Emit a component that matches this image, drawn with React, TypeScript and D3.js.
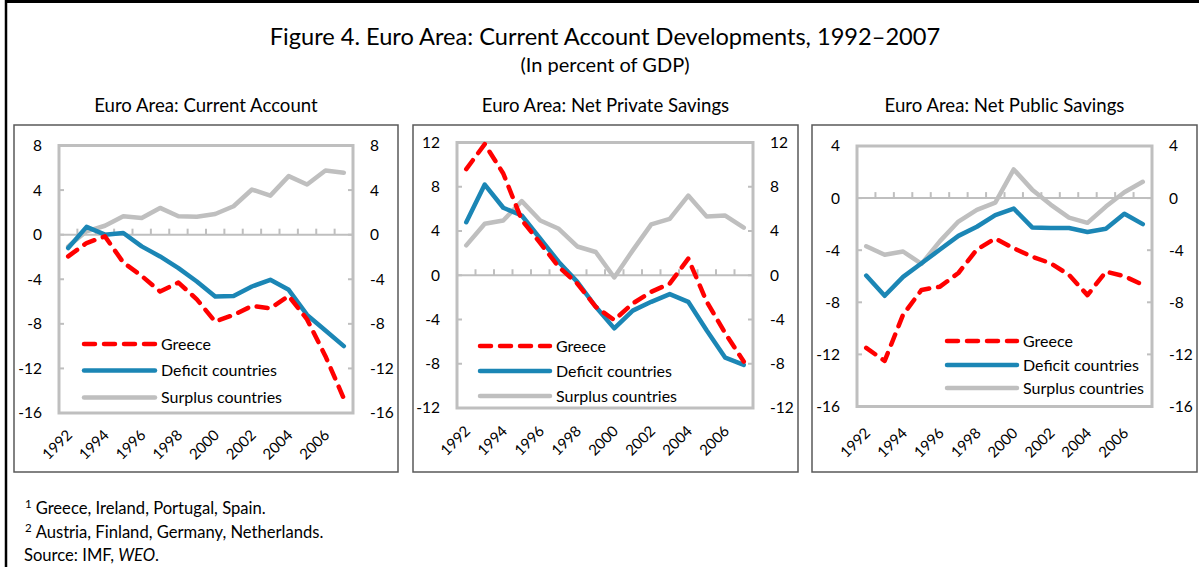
import React from "react";
import * as d3 from "d3";

const years = d3.range(1992, 2008).map(String);
const xLabels = ["1992", "1994", "1996", "1998", "2000", "2002", "2004", "2006"];
const seriesNames = ["Greece", "Deficit countries", "Surplus countries"];

// Panel 1: Current Account
const caGreece = [-1.95, -0.75, -0.15, -2.5, -3.7, -5.1, -4.3, -5.8, -7.8, -7.2, -6.4, -6.6, -5.5, -7.6, -10.9, -14.7];
const caDeficit = [-1.2, 0.7, 0.0, 0.15, -1.05, -1.95, -3.0, -4.2, -5.55, -5.5, -4.65, -4.05, -4.95, -7.2, -8.6, -10.0];
const caSurplus = [-1.05, 0.3, 0.8, 1.65, 1.5, 2.4, 1.65, 1.6, 1.85, 2.55, 4.05, 3.5, 5.25, 4.5, 5.75, 5.55];
const caTicks = [8, 4, 0, -4, -8, -12, -16];

// Panel 2: Net Private Savings
const npvGreece = [9.6, 11.85, 9.2, 5.0, 2.9, 0.75, -0.75, -2.85, -4.05, -2.55, -1.5, -0.75, 1.5, -2.4, -5.25, -7.8];
const npvDeficit = [4.8, 8.2, 6.1, 5.4, 3.3, 1.2, -0.6, -2.85, -4.8, -3.2, -2.4, -1.7, -2.4, -5.0, -7.45, -8.1];
const npvSurplus = [2.7, 4.65, 4.95, 6.7, 4.95, 4.2, 2.6, 2.1, -0.2, 2.25, 4.6, 5.1, 7.2, 5.3, 5.4, 4.3];
const npvTicks = [12, 8, 4, 0, -4, -8, -12];

// Panel 3: Net Public Savings
const npbGreece = [-11.5, -12.5, -8.95, -7.05, -6.8, -5.75, -3.95, -3.1, -3.85, -4.5, -5.0, -5.9, -7.45, -5.65, -6.0, -6.65];
const npbDeficit = [-5.95, -7.5, -6.05, -5.0, -3.95, -2.9, -2.2, -1.3, -0.8, -2.25, -2.3, -2.3, -2.6, -2.35, -1.2, -2.0];
const npbSurplus = [-3.7, -4.35, -4.1, -5.05, -3.3, -1.8, -0.9, -0.35, 2.2, 0.65, -0.5, -1.5, -1.9, -0.65, 0.45, 1.25];
const npbTicks = [4, 0, -4, -8, -12, -16];

const FONT = "Lato, 'Noto Sans', sans-serif";
const RED = "#ff0000";
const BLUE = "#1b86b5";
const GRAY = "#bfbfbf";

type Panel = {
  title: string;
  box: [number, number, number, number];
  plot: { l: number; r: number; t: number; b: number };
  domain: [number, number];
  ticks: number[];
  series: number[][];
  legend: { x1: number; x2: number; ys: number[] };
  labelY: number;
};

const panels: Panel[] = [
  {
    title: "Euro Area: Current Account",
    box: [14, 125, 398, 472],
    plot: { l: 59, r: 353, t: 145.5, b: 413 },
    domain: [-16, 8],
    ticks: caTicks,
    series: [caGreece, caDeficit, caSurplus],
    legend: { x1: 84, x2: 155, ys: [344, 370.5, 397.5] },
    labelY: 436,
  },
  {
    title: "Euro Area: Net Private Savings",
    box: [413, 125, 798, 472],
    plot: { l: 457, r: 753, t: 142.5, b: 408 },
    domain: [-12, 12],
    ticks: npvTicks,
    series: [npvGreece, npvDeficit, npvSurplus],
    legend: { x1: 480, x2: 550, ys: [346, 371, 396] },
    labelY: 432,
  },
  {
    title: "Euro Area: Net Public Savings",
    box: [812, 125, 1197, 472],
    plot: { l: 857, r: 1152, t: 146, b: 406.5 },
    domain: [-16, 4],
    ticks: npbTicks,
    series: [npbGreece, npbDeficit, npbSurplus],
    legend: { x1: 947, x2: 1017, ys: [341, 365, 388] },
    labelY: 434,
  },
];

const styles = [
  { color: RED, dash: "11 9" },
  { color: BLUE, dash: undefined },
  { color: GRAY, dash: undefined },
];

function PanelChart({ p }: { p: Panel }) {
  const x = d3.scaleBand<string>().domain(years).range([p.plot.l, p.plot.r]);
  const y = d3.scaleLinear().domain(p.domain).range([p.plot.b, p.plot.t]);
  const cx = (yr: string) => (x(yr) as number) + x.bandwidth() / 2;
  const line = d3
    .line<number>()
    .x((_, i) => cx(years[i]))
    .y((d) => y(d));
  const y0 = y(0);
  const [bx1, by1, bx2, by2] = p.box;
  const drawOrder = [2, 1, 0];
  return (
    <g>
      <rect x={bx1} y={by1} width={bx2 - bx1} height={by2 - by1} fill="#fff" stroke="#595959" strokeWidth={1.5} />
      <text x={(bx1 + bx2) / 2} y={112} textAnchor="middle" fontSize={18.6} fontFamily={FONT} fill="#000">
        {p.title}
      </text>
      {/* zero line */}
      <line x1={p.plot.l} x2={p.plot.r} y1={y0} y2={y0} stroke={GRAY} strokeWidth={2} />
      {years.slice(1).map((yr) => (
        <line key={yr} x1={x(yr)} x2={x(yr)} y1={y0} y2={y0 - 6} stroke={GRAY} strokeWidth={2} />
      ))}
      {/* y ticks */}
      {p.ticks.map((t) => (
        <g key={t}>
          <line x1={p.plot.l} x2={p.plot.l + 5} y1={y(t)} y2={y(t)} stroke={GRAY} strokeWidth={2} />
          <line x1={p.plot.r - 5} x2={p.plot.r} y1={y(t)} y2={y(t)} stroke={GRAY} strokeWidth={2} />
          <text x={p.plot.l - 17} y={y(t)} dy="0.35em" textAnchor="end" fontSize={15.5} fontFamily={FONT}>
            {t}
          </text>
          <text x={p.plot.r + 17} y={y(t)} dy="0.35em" textAnchor="start" fontSize={15.5} fontFamily={FONT}>
            {t}
          </text>
        </g>
      ))}
      {/* frame */}
      <rect
        x={p.plot.l}
        y={p.plot.t}
        width={p.plot.r - p.plot.l}
        height={p.plot.b - p.plot.t}
        fill="none"
        stroke={GRAY}
        strokeWidth={3}
      />
      {/* x labels */}
      {xLabels.map((yr) => {
        const ax = cx(yr) + 5;
        const ay = p.labelY;
        return (
          <text
            key={yr}
            x={ax}
            y={ay}
            textAnchor="end"
            fontSize={15}
            fontFamily={FONT}
            transform={`rotate(-45 ${ax} ${ay})`}
          >
            {yr}
          </text>
        );
      })}
      {/* series */}
      {drawOrder.map((i) => (
        <path
          key={i}
          d={line(p.series[i]) as string}
          fill="none"
          stroke={styles[i].color}
          strokeWidth={4.5}
          strokeDasharray={styles[i].dash}
          strokeLinecap="round"
          strokeLinejoin="round"
        />
      ))}
      {/* legend */}
      {seriesNames.map((n, i) => (
        <g key={n}>
          <line
            x1={p.legend.x1}
            x2={p.legend.x2}
            y1={p.legend.ys[i]}
            y2={p.legend.ys[i]}
            stroke={styles[i].color}
            strokeWidth={4.5}
            strokeDasharray={styles[i].dash}
            strokeLinecap="round"
          />
          <text x={p.legend.x2 + 6} y={p.legend.ys[i]} dy="0.35em" fontSize={16} fontFamily={FONT}>
            {n}
          </text>
        </g>
      ))}
    </g>
  );
}

export default function App() {
  return (
    <svg
      width={1199}
      height={567}
      style={{ position: "absolute", left: 0, top: 0, background: "#fff" }}
    >
      <rect x={0} y={0} width={1199} height={567} fill="#fff" />
      <line x1={5} x2={1199} y1={1.5} y2={1.5} stroke="#000" strokeWidth={3} />
      <line x1={6} x2={6} y1={0} y2={567} stroke="#000" strokeWidth={2.5} />
      <text x={605} y={45} textAnchor="middle" fontSize={23.6} fontFamily={FONT}>
        Figure 4. Euro Area: Current Account Developments, 1992–2007
      </text>
      <text x={605} y={72} textAnchor="middle" fontSize={20} fontFamily={FONT}>
        (In percent of GDP)
      </text>
      {panels.map((p) => (
        <PanelChart key={p.title} p={p} />
      ))}
      <g fontFamily={FONT} fontSize={16.6}>
        <text x={25} y={514}>
          <tspan fontSize={11.5} dy={-6}>1</tspan>
          <tspan dx={4} dy={6}>Greece, Ireland, Portugal, Spain.</tspan>
        </text>
        <text x={25} y={538}>
          <tspan fontSize={11.5} dy={-6}>2</tspan>
          <tspan dx={4} dy={6}>Austria, Finland, Germany, Netherlands.</tspan>
        </text>
        <text x={24} y={561}>
          Source: IMF, <tspan fontStyle="italic">WEO</tspan>.
        </text>
      </g>
    </svg>
  );
}
